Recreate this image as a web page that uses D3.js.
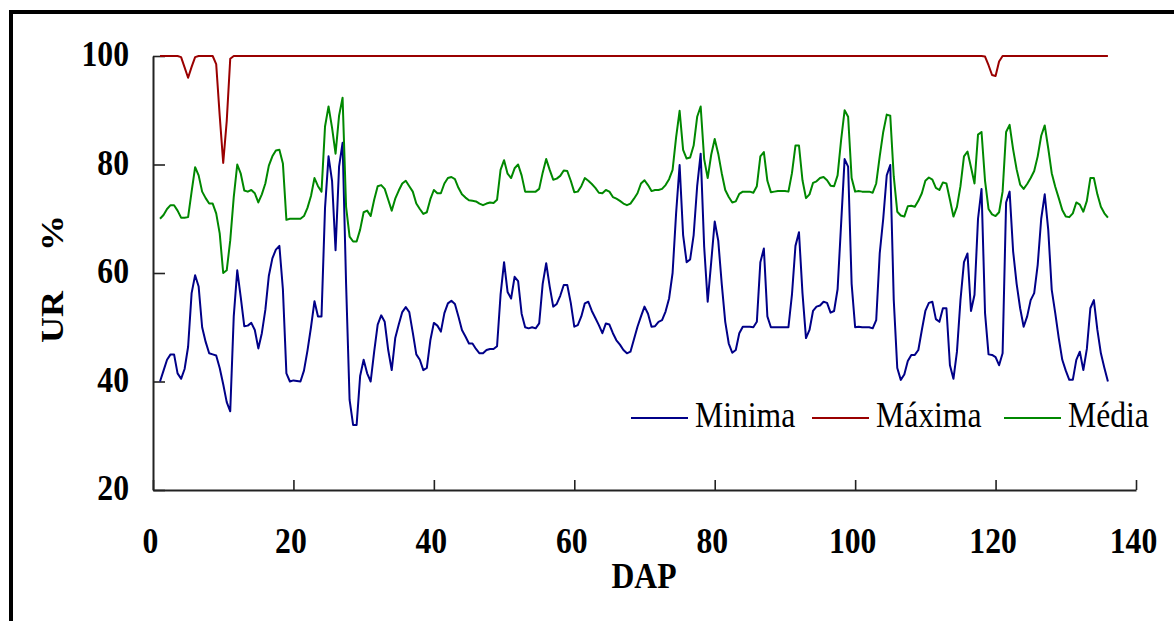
<!DOCTYPE html>
<html>
<head>
<meta charset="utf-8">
<script src="https://cdn.jsdelivr.net/npm/d3@7"></script>
<style>
  body { margin: 0; background: #fff; }
  svg { display: block; }
  text { fill: #000; font-family: 'Liberation Serif', serif; }
</style>
</head>
<body>
<svg id="chart"></svg>
<script>
// DAP sampled every half day, from day 1 to day 136
const dap = d3.range(1, 136.5, 0.5);

const xTicks = [0, 20, 40, 60, 80, 100, 120, 140];
const yTicks = [20, 40, 60, 80, 100];

const seriesNames = ["Minima", "Máxima", "Média"];
const seriesColors = ["#000088", "#9a0000", "#008800"];

// UR minima (%)
const minima = [
  40, 42, 44, 45, 45, 41.5, 40.5, 42.3, 46.4, 56.3,
  59.6, 57.5, 50, 47.3, 45.2, 45, 44.8, 42.5, 39.5, 36.2,
  34.5, 52, 60.5, 55.5, 50.2, 50.3, 50.8, 49.5, 46.1, 48.9,
  53.2, 59.5, 62.7, 64.3, 65, 57, 41.5, 40, 40.2, 40.1,
  40, 42, 45.7, 50, 54.8, 52, 52, 72, 81.5, 77,
  64.2, 79.6, 84, 58, 36.6, 32, 32, 41, 44, 41.5,
  40, 45.5, 50.5, 52.2, 51, 45.8, 42.1, 48, 50.5, 52.8,
  53.7, 52.8, 49, 45, 44, 42.1, 42.5, 47.6, 50.8, 50.3,
  49.2, 52.6, 54.4, 54.9, 54.3, 52, 49.5, 48.3, 47, 47,
  46, 45.2, 45.2, 45.8, 46, 46, 46.5, 56, 62, 56.5,
  55.3, 59.3, 58.5, 52.5, 50, 49.8, 50, 49.8, 50.7, 58,
  61.8, 57.5, 53.8, 54.3, 55.8, 57.8, 57.8, 54.5, 50.1, 50.4,
  52, 54.4, 54.7, 53, 51.7, 50.4, 48.9, 50.7, 50.5, 48.9,
  47.6, 46.8, 45.8, 45.2, 45.5, 47.8, 50.1, 52, 53.8, 52.5,
  50.1, 50.2, 51, 51.3, 52.9, 55.3, 60, 71, 79.9, 67,
  62, 62.5, 67, 76, 82, 64.8, 54.7, 62, 69.5, 66,
  58, 51, 47, 45.3, 45.8, 48.9, 50.1, 50.1, 50.1, 50,
  51, 62, 64.5, 52, 50, 50, 50, 50, 50, 50,
  56, 65, 67.5, 56.3, 48, 49.5, 53, 53.8, 54, 54.7,
  54.5, 52.7, 53, 57, 69, 81, 79.6, 58, 50, 50.1,
  50, 50, 50, 49.8, 51.3, 63.6, 70, 78, 79.9, 55,
  42.5, 40.3, 41.3, 43.8, 44.9, 44.9, 45.8, 49.5, 53, 54.5,
  54.7, 51.5, 51, 53.5, 53.5, 43, 40.5, 45.5, 55, 62,
  63.6, 53, 56, 70, 75.5, 52.6, 45, 44.9, 44.5, 43,
  45.2, 73, 75, 64, 58, 53.5, 50.1, 52, 55, 56.3,
  61.5, 70, 74.5, 68, 56.9, 52.6, 48, 44, 42, 40.3,
  40.3, 44, 45.5, 42.1, 46, 53.5, 55, 49.5, 45.2, 42.5,
  40
];

// UR maxima (%)
const maxima = [
  100, 100, 100, 100, 100, 100, 99.8, 97.9, 96, 98,
  99.8, 100, 100, 100, 100, 100, 98.5, 89, 80.3, 88,
  99.5, 100, 100, 100, 100, 100, 100, 100, 100, 100,
  100, 100, 100, 100, 100, 100, 100, 100, 100, 100,
  100, 100, 100, 100, 100, 100, 100, 100, 100, 100,
  100, 100, 100, 100, 100, 100, 100, 100, 100, 100,
  100, 100, 100, 100, 100, 100, 100, 100, 100, 100,
  100, 100, 100, 100, 100, 100, 100, 100, 100, 100,
  100, 100, 100, 100, 100, 100, 100, 100, 100, 100,
  100, 100, 100, 100, 100, 100, 100, 100, 100, 100,
  100, 100, 100, 100, 100, 100, 100, 100, 100, 100,
  100, 100, 100, 100, 100, 100, 100, 100, 100, 100,
  100, 100, 100, 100, 100, 100, 100, 100, 100, 100,
  100, 100, 100, 100, 100, 100, 100, 100, 100, 100,
  100, 100, 100, 100, 100, 100, 100, 100, 100, 100,
  100, 100, 100, 100, 100, 100, 100, 100, 100, 100,
  100, 100, 100, 100, 100, 100, 100, 100, 100, 100,
  100, 100, 100, 100, 100, 100, 100, 100, 100, 100,
  100, 100, 100, 100, 100, 100, 100, 100, 100, 100,
  100, 100, 100, 100, 100, 100, 100, 100, 100, 100,
  100, 100, 100, 100, 100, 100, 100, 100, 100, 100,
  100, 100, 100, 100, 100, 100, 100, 100, 100, 100,
  100, 100, 100, 100, 100, 100, 100, 100, 100, 100,
  100, 100, 100, 100, 100, 99.9, 98.3, 96.5, 96.3, 99,
  100, 100, 100, 100, 100, 100, 100, 100, 100, 100,
  100, 100, 100, 100, 100, 100, 100, 100, 100, 100,
  100, 100, 100, 100, 100, 100, 100, 100, 100, 100,
  100
];

// UR media (%)
const media = [
  70, 70.7, 71.8, 72.5, 72.5, 71.5, 70.2, 70.2, 70.3, 75,
  79.5, 78, 75, 73.8, 72.8, 72.8, 71, 67.3, 60, 60.5,
  66, 74, 80, 78.3, 75.2, 75, 75.3, 74.7, 73, 74.5,
  76.5, 79.8, 81.5, 82.6, 82.7, 80.2, 69.8, 70, 70, 70,
  70, 70.5, 72, 74.2, 77.5, 76, 75, 87, 90.7, 86.8,
  82, 89, 92.3, 72.2, 66.7, 65.8, 65.8, 68, 71.2, 71.5,
  70.5, 73.5, 76, 76.2, 75.5, 73.5, 71.5, 73.7, 75.2, 76.5,
  77, 76, 75, 72.8, 71.8, 70.9, 71.2, 73.6, 75.3, 74.7,
  74.7, 76.5, 77.5, 77.7, 77.3, 75.7, 74.5, 73.9, 73.4, 73.3,
  73.2, 72.8, 72.5, 72.8, 73, 72.9, 73.5, 79, 80.8, 78.3,
  77.5, 79.3, 80, 78, 75, 75, 75, 75, 75.5, 78.5,
  81, 79, 77.2, 77.4, 77.9, 78.9, 78.8, 77, 74.9, 75,
  76, 77.5, 77, 76.4, 75.7, 74.8, 74.7, 75.3, 75, 74,
  73.7, 73.3, 72.8, 72.5, 72.8, 73.7, 74.7, 76.5, 77.1, 76.2,
  75.1, 75.3, 75.3, 75.5, 76.2, 77.3, 79, 85, 89.9, 82.7,
  81.1, 81.3, 83.5, 88.8, 90.7, 81, 77.5, 81.8, 84.7, 82,
  78.4, 75.3, 74, 73, 73.2, 74.6, 75, 75, 75, 74.8,
  76, 81.5, 82.3, 77, 74.9, 75, 75.1, 75.1, 75.1, 75,
  78.4, 83.5, 83.5, 77.1, 73.8, 74.5, 76.6, 76.9, 77.5, 77.7,
  77.1, 76.1, 76, 78, 84.5, 90, 88.8, 77.5, 75, 75.1,
  75, 75, 75, 74.8, 76.5, 81.5, 86, 89.2, 89, 77.8,
  71.3, 70.6, 70.4, 72.3, 72.4, 72.2, 73.3, 74.7, 77, 77.6,
  77.2, 75.7, 75.3, 76.7, 76.5, 73.5, 70.4, 72.2, 76, 81.5,
  82.4, 79.5, 76.5, 85.5, 86, 77, 71.8, 70.8, 70.5, 71.2,
  75, 86, 87.3, 82.8, 79.1, 76.3, 75.5, 76.4, 77.5, 78.8,
  81.5, 85.3, 87.2, 83, 78.4, 75.9, 73.8, 71.6, 70.4, 70.3,
  71, 73, 72.6, 71.3, 73.3, 77.5, 77.5, 74.5, 72.2, 71,
  70.2
];

const W = 1174, H = 621;
const sx = 0.88; // glyphs in the original are a bit narrow
const serif = "'Liberation Serif', serif";

const svg = d3.select("#chart").attr("width", W).attr("height", H);

// outer frame (only top and left edges show in the picture)
svg.append("rect")
  .attr("x", 11).attr("y", 12)
  .attr("width", 1300).attr("height", 800)
  .attr("fill", "none").attr("stroke", "#000").attr("stroke-width", 4);

const x = d3.scaleLinear().domain([0, 140]).range([153, 1136]);
const y = d3.scaleLinear().domain([20, 100]).range([490, 56]);

// y axis
const yAxis = svg.append("g")
  .attr("transform", "translate(153,0)")
  .call(d3.axisLeft(y).tickValues(yTicks).tickSizeInner(-12).tickSizeOuter(0).tickPadding(24));
yAxis.attr("font-family", null);
yAxis.select(".domain").attr("stroke", "#222").attr("stroke-width", 2);
yAxis.selectAll(".tick line").attr("stroke", "#222").attr("stroke-width", 1.6);
yAxis.selectAll(".tick text")
  .style("font-family", serif).style("font-size", "36px").style("font-weight", "bold")
  .attr("x", -24 / sx).attr("dy", "0.27em")
  .attr("transform", `scale(${sx},1)`);

// x axis
const xAxis = svg.append("g")
  .attr("transform", "translate(0,490)")
  .call(d3.axisBottom(x).tickValues(xTicks).tickSizeInner(-10).tickSizeOuter(0).tickPadding(37));
xAxis.attr("font-family", null);
xAxis.select(".domain").attr("stroke", "#222").attr("stroke-width", 2);
xAxis.selectAll(".tick line").attr("stroke", "#222").attr("stroke-width", 1.6);
xAxis.selectAll(".tick text")
  .style("font-family", serif).style("font-size", "36px").style("font-weight", "bold")
  .attr("x", -3 / sx)
  .attr("transform", `scale(${sx},1)`);

// axis titles
svg.append("text")
  .attr("transform", `translate(644,588) scale(${sx},1)`)
  .attr("text-anchor", "middle")
  .style("font-family", serif).style("font-size", "36px").style("font-weight", "bold")
  .text("DAP");

const yTitle = svg.append("text")
  .attr("transform", `translate(63,343) scale(${sx},1) rotate(-90)`)
  .style("font-family", serif).style("font-size", "36px").style("font-weight", "bold");
yTitle.append("tspan").text("UR");
yTitle.append("tspan").attr("dx", 40).text("%");

// series lines
const line = d3.line()
  .x((d, i) => x(dap[i]))
  .y(d => y(d));

const allSeries = [minima, maxima, media];
svg.append("g").selectAll("path")
  .data(allSeries)
  .join("path")
  .attr("d", d => line(d))
  .attr("fill", "none")
  .attr("stroke", (d, i) => seriesColors[i])
  .attr("stroke-width", 2)
  .attr("stroke-linejoin", "round");

// legend
const legendX = [631, 812, 1004];
const legend = svg.append("g").selectAll("g")
  .data(seriesNames)
  .join("g")
  .attr("transform", (d, i) => `translate(${legendX[i]},418)`);
legend.append("line")
  .attr("x1", 0).attr("x2", 57)
  .attr("stroke", (d, i) => seriesColors[i])
  .attr("stroke-width", 2);
legend.append("text")
  .attr("transform", `translate(64,9) scale(${sx},1)`)
  .style("font-family", serif).style("font-size", "36px")
  .text(d => d);
</script>
</body>
</html>
